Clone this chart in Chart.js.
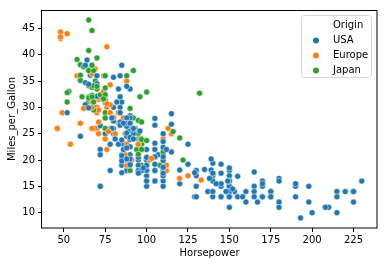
<!DOCTYPE html>
<html>
<head>
<meta charset="utf-8">
<script src="https://cdn.jsdelivr.net/npm/chart.js@4/dist/chart.umd.min.js"></script>
<style>
  html, body { margin: 0; padding: 0; background: #fff; }
  #wrap { width: 387px; height: 266px; }
</style>
</head>
<body>
<div id="wrap"><canvas id="scatter-chart" width="387" height="266"></canvas></div>
<script>
// categories
const origins = ["USA", "Europe", "Japan"];
const originCodes = ["U", "E", "J"];
const originColors = ["#1f77b4", "#ff7f0e", "#2ca02c"];

// tick labels
const xTicks = [50, 75, 100, 125, 150, 175, 200, 225];
const yTicks = [10, 15, 20, 25, 30, 35, 40, 45];

// series values (one entry per car, in data order)
const horsepower = [
  130, 165, 150, 150, 140, 198, 220, 215, 225, 190,
  170, 160, 150, 225, 95, 95, 97, 85, 88, 46,
  87, 90, 95, 113, 90, 215, 200, 210, 193, 88,
  90, 95, 100, 105, 100, 88, 100, 165, 175,
  153, 150, 180, 170, 175, 110, 72, 100, 88, 86,
  90, 70, 76, 65, 69, 60, 70, 95, 80, 54,
  90, 86, 165, 175, 150, 153, 150, 208, 155, 160,
  190, 97, 150, 130, 140, 150, 112, 76, 87, 69,
  86, 92, 97, 80, 88, 175, 150, 145, 137, 150,
  198, 150, 158, 150, 215, 225, 175, 105, 100, 100,
  88, 95, 46, 150, 167, 170, 180, 100, 88, 72,
  94, 90, 85, 107, 90, 145, 230, 49, 75, 91,
  112, 150, 110, 122, 180, 95, 100, 100, 67,
  80, 65, 75, 100, 110, 105, 140, 150, 150, 140,
  150, 83, 67, 78, 52, 61, 75, 75, 75, 97,
  93, 67, 95, 105, 72, 72, 170, 145, 150, 148,
  110, 105, 110, 95, 110, 110, 129, 75, 83, 100,
  78, 96, 71, 97, 97, 70, 90, 95, 88, 98,
  115, 53, 86, 81, 92, 79, 83, 140, 150, 120,
  152, 100, 105, 81, 90, 52, 60, 70, 53, 100,
  78, 110, 95, 71, 70, 75, 72, 102, 150, 88,
  108, 120, 180, 145, 130, 150, 68, 80, 58, 96,
  70, 145, 110, 145, 130, 110, 105, 100, 98, 180,
  170, 190, 149, 78, 88, 75, 89, 63, 83, 67,
  78, 97, 110, 110, 48, 66, 52, 70, 60, 110,
  140, 139, 105, 95, 85, 88, 100, 90, 105, 85,
  110, 120, 145, 165, 139, 140, 68, 95, 97, 75,
  95, 105, 85, 97, 103, 125, 115, 133, 71, 68,
  115, 85, 88, 90, 110, 130, 129, 138, 135, 155,
  142, 125, 150, 71, 65, 80, 80, 77, 125, 71,
  90, 70, 70, 65, 69, 90, 115, 115, 90, 76,
  60, 70, 65, 90, 88, 90, 90, 78, 90, 75,
  92, 75, 65, 105, 65, 48, 48, 67, 67, 67,
  67, 62, 132, 100, 88, 72, 84, 84,
  92, 110, 84, 58, 64, 60, 67, 65, 62, 68,
  63, 65, 65, 74, 75, 75, 100, 74, 80,
  76, 116, 120, 110, 105, 88, 85, 88, 88, 88,
  85, 84, 90, 92, 74, 68, 68, 63, 70, 88,
  75, 70, 67, 67, 67, 110, 85, 92, 112, 96,
  84, 90, 86, 52, 84, 79, 82
];

const milesPerGallon = [
  18, 15, 18, 16, 17, 15, 14, 14, 14, 15,
  15, 14, 15, 14, 24, 22, 18, 21, 27, 26,
  25, 24, 25, 26, 21, 10, 10, 11, 9, 27,
  28, 25, 19, 16, 17, 19, 18, 14, 14,
  14, 14, 12, 13, 13, 18, 22, 19, 18, 23,
  28, 30, 30, 31, 35, 27, 26, 24, 25, 23,
  20, 21, 13, 14, 15, 14, 17, 11, 13, 12,
  13, 19, 15, 13, 13, 14, 18, 22, 21, 26,
  22, 28, 23, 28, 27, 13, 14, 13, 14, 15,
  12, 13, 13, 14, 13, 12, 13, 18, 16, 18,
  18, 23, 26, 11, 12, 13, 12, 18, 20, 21,
  22, 18, 19, 21, 26, 15, 16, 29, 24, 20,
  19, 15, 24, 20, 11, 20, 19, 15, 31,
  26, 32, 25, 16, 16, 18, 16, 13, 14, 14,
  14, 29, 26, 26, 31, 32, 28, 24, 26, 24,
  26, 31, 19, 18, 15, 15, 16, 15, 16, 14,
  17, 16, 15, 18, 21, 20, 13, 29, 23, 20,
  23, 24, 25, 24, 18, 29, 19, 23, 23, 22,
  25, 33, 28, 25, 25, 26, 27, 17.5, 16, 15.5,
  14.5, 22, 22, 24, 22.5, 29, 24.5, 29, 33, 20,
  18, 18.5, 17.5, 29.5, 32, 28, 26.5, 20, 13, 19,
  19, 16.5, 16.5, 13, 13, 13, 31.5, 30, 36, 25.5,
  33.5, 17.5, 17, 15.5, 15, 17.5, 20.5, 19, 18.5, 16,
  15.5, 15.5, 16, 29, 24.5, 26, 25.5, 30.5, 33.5, 30,
  30.5, 22, 21.5, 21.5, 43.1, 36.1, 32.8, 39.4, 36.1, 19.9,
  19.4, 20.2, 19.2, 20.5, 20.2, 25.1, 20.5, 19.4, 20.6, 20.8,
  18.6, 18.1, 19.2, 17.7, 18.1, 17.5, 30, 27.5, 27.2, 30.9,
  21.1, 23.2, 23.8, 23.9, 20.3, 17, 21.6, 16.2, 31.5, 29.5,
  21.5, 19.8, 22.3, 20.2, 20.6, 17, 17.6, 16.5, 18.2, 16.9,
  15.5, 19.2, 18.5, 31.9, 34.1, 35.7, 27.4, 25.4, 23, 27.2,
  23.9, 34.2, 34.5, 31.8, 37.3, 28.4, 28.8, 26.8, 33.5, 41.5,
  38.1, 32.1, 37.2, 28, 26.4, 24.3, 19.1, 34.3, 29.8, 31.3,
  37, 32.2, 46.6, 27.9, 40.8, 44.3, 43.4, 36.4, 30, 44.6,
  33.8, 29.8, 32.7, 23.7, 35, 32.4, 27.2, 26.6,
  25.8, 23.5, 30, 39.1, 39, 35.1, 32.3, 37, 37.7, 34.1,
  34.7, 34.4, 29.9, 33, 33.7, 32.4, 32.9, 31.6, 28.1,
  30.7, 25.4, 24.2, 22.4, 26.6, 20.2, 17.6, 28, 27, 34,
  31, 29, 27, 24, 36, 37, 31, 38, 36, 36,
  36, 34, 38, 32, 38, 25, 38, 26, 22, 32,
  36, 27, 27, 44, 32, 28, 31
];

const origin = [
  "U","U","U","U","U","U","U","U","U","U",
  "U","U","U","U","J","U","U","U","J","E",
  "E","E","E","E","U","U","U","U","U","J",
  "U","J","U","U","U","U","U","U","U",
  "U","U","U","U","U","U","U","U","U","U",
  "E","E","E","J","J","E","U","J","U","E",
  "U","U","U","U","U","U","U","U","U","U",
  "U","J","U","U","U","U","E","E","E","E",
  "U","J","J","U","J","U","U","U","U","U",
  "U","U","U","U","U","U","U","U","U","U",
  "U","U","E","U","U","U","U","U","J","U",
  "J","J","U","U","E","U","U","E","E","E",
  "E","U","E","J","U","U","U","U","J",
  "U","J","U","U","U","U","U","U","U","U",
  "U","E","E","E","J","J","U","E","E","J",
  "J","E","U","U","U","U","U","U","U","U",
  "U","U","U","U","U","U","U","J","U","U",
  "U","J","E","J","U","E","U","E","E","E",
  "E","J","E","E","U","U","E","U","U","U",
  "U","U","U","U","U","U","U","E","J","U",
  "U","U","U","E","J","J","U","E","U","E",
  "J","E","U","U","U","U","J","U","E","U",
  "J","U","U","U","U","U","U","U","U","U",
  "U","U","U","E","U","J","U","U","U","J",
  "E","J","E","J","E","U","J","J","J","U",
  "U","U","U","U","U","U","U","U","U","U",
  "U","U","U","U","U","U","U","J","J","U",
  "J","U","U","J","E","E","E","E","E","J",
  "U","U","U","U","U","U","U","U","U","U",
  "U","U","U","E","J","U","U","E","U","E",
  "U","U","U","J","E","U","U","U","U","E",
  "J","U","J","U","U","U","U","E","J","J",
  "J","J","J","U","J","E","E","E","E","J",
  "J","E","J","J","E","J","U","U",
  "U","U","U","J","U","J","J","J","J","J",
  "U","U","U","E","J","J","J","J","E",
  "E","J","J","U","U","U","U","U","U","U",
  "U","U","U","U","E","J","J","U","U","J",
  "J","J","J","J","J","U","U","U","U","J",
  "U","U","U","E","U","U","U"
];

const FONT = "'DejaVu Sans', 'Liberation Sans', sans-serif";
const INK = "#000";

const points = horsepower.map((hp, i) => ({ x: hp, y: milesPerGallon[i] }));
const pointColors = origin.map((o) => originColors[originCodes.indexOf(o)]);

// top/right spines + matplotlib style legend
const framePlugin = {
  id: "frame",
  afterDraw(chart) {
    const { ctx, chartArea: a } = chart;
    ctx.save();
    ctx.strokeStyle = INK;
    ctx.lineWidth = 1;
    ctx.strokeRect(Math.round(a.left) - 0.5, Math.round(a.top) + 0.5,
      Math.round(a.right - a.left) + 0.5, Math.round(a.bottom - a.top) - 0.5);

    // legend box
    const bx = 301.5, by = 15.5, bw = 70, bh = 62, r = 3;
    ctx.beginPath();
    ctx.moveTo(bx + r, by);
    ctx.arcTo(bx + bw, by, bx + bw, by + bh, r);
    ctx.arcTo(bx + bw, by + bh, bx, by + bh, r);
    ctx.arcTo(bx, by + bh, bx, by, r);
    ctx.arcTo(bx, by, bx + bw, by, r);
    ctx.closePath();
    ctx.fillStyle = "rgba(255,255,255,0.8)";
    ctx.fill();
    ctx.strokeStyle = "#d6d6d6";
    ctx.stroke();

    ctx.font = "10px " + FONT;
    ctx.textBaseline = "middle";
    ctx.textAlign = "left";
    ctx.fillStyle = INK;
    ctx.fillText("Origin", 333, 25);
    origins.forEach((name, i) => {
      const y = 40 + i * 15;
      ctx.beginPath();
      ctx.arc(316, y + 0.5, 3, 0, Math.PI * 2);
      ctx.fillStyle = originColors[i];
      ctx.fill();
      ctx.fillStyle = INK;
      ctx.fillText(name, 333, y);
    });
    ctx.restore();
  },
};

new Chart(document.getElementById("scatter-chart"), {
  type: "scatter",
  data: {
    datasets: [
      {
        label: "Origin",
        data: points,
        pointBackgroundColor: pointColors,
        pointBorderColor: "#fff",
        pointBorderWidth: 0.5,
        pointRadius: 3.0,
      },
    ],
  },
  options: {
    responsive: false,
    animation: false,
    devicePixelRatio: 1,
    layout: { padding: { top: 10, right: 10, left: 0, bottom: 0 } },
    plugins: {
      legend: { display: false },
      tooltip: { enabled: false },
    },
    scales: {
      x: {
        type: "linear",
        min: 36.8,
        max: 239.2,
        afterBuildTicks: (scale) => {
          scale.ticks = xTicks.map((v) => ({ value: v }));
        },
        afterFit: (scale) => {
          scale.height = 38;
        },
        grid: { drawOnChartArea: false, drawTicks: true, tickLength: 4, tickColor: INK, tickWidth: 1 },
        border: { display: false },
        ticks: { autoSkip: false, maxRotation: 0, padding: 2, color: INK, font: { family: FONT, size: 10 } },
        title: { display: true, text: "Horsepower", color: INK, padding: { top: 0, bottom: 7 }, font: { family: FONT, size: 10 } },
      },
      y: {
        type: "linear",
        min: 7.08,
        max: 48.5,
        afterBuildTicks: (scale) => {
          scale.ticks = yTicks.map((v) => ({ value: v }));
        },
        afterFit: (scale) => {
          scale.width = 42;
        },
        grid: { drawOnChartArea: false, drawTicks: true, tickLength: 4, tickColor: INK, tickWidth: 1 },
        border: { display: false },
        ticks: { autoSkip: false, padding: 3, color: INK, font: { family: FONT, size: 10 } },
        title: { display: true, text: "Miles_per_Gallon", color: INK, padding: { top: 6, bottom: 0 }, font: { family: FONT, size: 10 } },
      },
    },
  },
  plugins: [framePlugin],
});
</script>
</body>
</html>
